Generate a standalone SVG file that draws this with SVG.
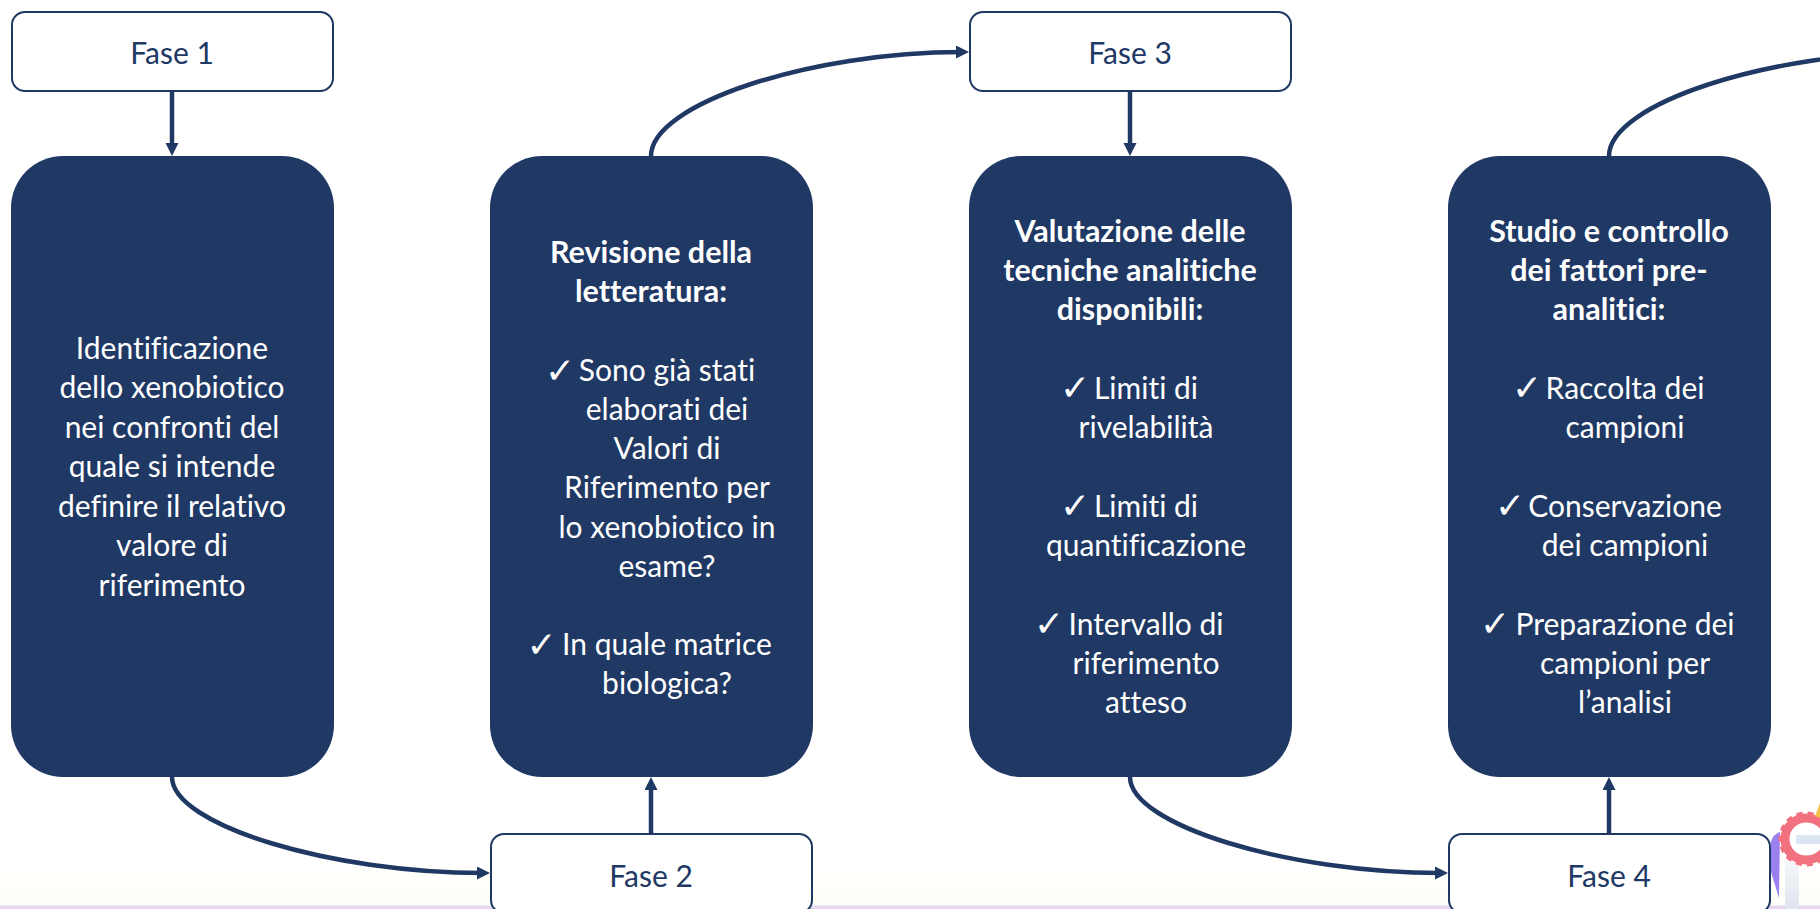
<svg xmlns="http://www.w3.org/2000/svg" width="1820" height="909" viewBox="0 0 1820 909">
<style>
.f{fill:#fff;stroke:#203864;stroke-width:2}
.d{fill:#203864}
text{font-family:"Lato","Carlito","Open Sans",sans-serif;font-size:30px;text-anchor:middle;font-variant-ligatures:none}
.fl{fill:#203864}
.t{fill:#fff}
.b{font-weight:700;font-size:30.5px}
.c{font-family:"DejaVu Sans",sans-serif;font-size:36px}
.k{fill:none;stroke:#203864;stroke-width:4.5}
</style>
<defs>
<linearGradient id="bg" x1="0" y1="0" x2="0" y2="1"><stop offset="0" stop-color="#fff"/><stop offset="1" stop-color="#fffff8"/></linearGradient>
<linearGradient id="gs" x1="0" y1="0" x2="0" y2="1"><stop offset="0" stop-color="#f4f6fa"/><stop offset="1" stop-color="#dfe5ef"/></linearGradient>
<marker id="a" markerUnits="userSpaceOnUse" markerWidth="14" markerHeight="14" refX="6" refY="6.5" orient="auto"><path d="M0,0L13,6.5L0,13Z" fill="#203864"/></marker>
</defs>
<rect width="1820" height="909" fill="#fff"/>
<rect y="860" width="1820" height="46" fill="url(#bg)"/>
<rect y="905.5" width="1820" height="3.5" fill="#e5d6f2"/>
<g id="icon">
<path d="M1771,842Q1773,834 1780,832L1779,898L1771,872Z" fill="#9a80ee"/>
<rect x="1785" y="862" width="14" height="47" fill="url(#gs)"/>
<circle cx="1806" cy="839" r="21" fill="none" stroke="#f2717f" stroke-width="9"/>
<circle cx="1806" cy="839" r="25.5" fill="none" stroke="#f2717f" stroke-width="4" stroke-dasharray="6 5"/>
<circle cx="1808" cy="839" r="16" fill="#fff"/>
<rect x="1796" y="835" width="24" height="9" fill="#dbe6f2"/>
<path d="M1815,816L1820,803V818Z" fill="#f6c04d"/>
</g>
<g id="connectors">
<path class="k" marker-end="url(#a)" d="M172,91V149"/>
<path class="k" marker-end="url(#a)" d="M651,834V784"/>
<path class="k" marker-end="url(#a)" d="M1130,91V149"/>
<path class="k" marker-end="url(#a)" d="M1609,834V784"/>
<path class="k" marker-end="url(#a)" d="M172,777C172,825 331,873 483,873"/>
<path class="k" marker-end="url(#a)" d="M1130,777C1130,825 1289,873 1441,873"/>
<path class="k" marker-end="url(#a)" d="M651,156C651,104 810,52 962,52"/>
<path class="k" d="M1609,156C1609,104 1768,52 1926,52"/>
</g>
<g id="fase1"><rect class="f" x="12" y="12" width="321" height="79" rx="13"/><text class="fl" x="172" y="64">Fase 1</text></g>
<g id="box1"><rect class="d" x="11" y="156" width="323" height="621" rx="52"/>
<g class="t"><text x="172" y="359">Identificazione</text><text x="172" y="398">dello xenobiotico</text><text x="172" y="438">nei confronti del</text><text x="172" y="477">quale si intende</text><text x="172" y="517">definire il relativo</text><text x="172" y="556">valore di</text><text x="172" y="596">riferimento</text></g></g>
<g id="fase2"><rect class="f" x="491" y="834" width="321" height="79" rx="13"/><text class="fl" x="651" y="887">Fase 2</text></g>
<g id="box2"><rect class="d" x="490" y="156" width="323" height="621" rx="52"/>
<g class="t"><text class="b" x="651" y="263">Revisione della</text><text class="b" x="651" y="302">letteratura:</text>
<text class="c" x="560" y="383">✓</text><text x="667" y="381">Sono già stati</text><text x="667" y="420">elaborati dei</text><text x="667" y="459">Valori di</text><text x="667" y="498">Riferimento per</text><text x="667" y="538">lo xenobiotico in</text><text x="667" y="577">esame?</text>
<text class="c" x="541.5" y="657">✓</text><text x="667" y="655">In quale matrice</text><text x="667" y="694">biologica?</text></g></g>
<g id="fase3"><rect class="f" x="970" y="12" width="321" height="79" rx="13"/><text class="fl" x="1130" y="64">Fase 3</text></g>
<g id="box3"><rect class="d" x="969" y="156" width="323" height="621" rx="52"/>
<g class="t"><text class="b" x="1130" y="242">Valutazione delle</text><text class="b" x="1130" y="281">tecniche analitiche</text><text class="b" x="1130" y="320">disponibili:</text>
<text class="c" x="1075" y="400">✓</text><text x="1146" y="399">Limiti di</text><text x="1146" y="438">rivelabilità</text>
<text class="c" x="1075" y="518">✓</text><text x="1146" y="517">Limiti di</text><text x="1146" y="556">quantificazione</text>
<text class="c" x="1049" y="636">✓</text><text x="1146" y="635">Intervallo di</text><text x="1146" y="674">riferimento</text><text x="1146" y="713">atteso</text></g></g>
<g id="fase4"><rect class="f" x="1449" y="834" width="321" height="79" rx="13"/><text class="fl" x="1609" y="887">Fase 4</text></g>
<g id="box4"><rect class="d" x="1448" y="156" width="323" height="621" rx="52"/>
<g class="t"><text class="b" x="1609" y="242">Studio e controllo</text><text class="b" x="1609" y="281">dei fattori pre-</text><text class="b" x="1609" y="320">analitici:</text>
<text class="c" x="1527" y="400">✓</text><text x="1625" y="399">Raccolta dei</text><text x="1625" y="438">campioni</text>
<text class="c" x="1510" y="518">✓</text><text x="1625" y="517">Conservazione</text><text x="1625" y="556">dei campioni</text>
<text class="c" x="1495" y="636">✓</text><text x="1625" y="635">Preparazione dei</text><text x="1625" y="674">campioni per</text><text x="1625" y="713">l’analisi</text></g></g>
</svg>
